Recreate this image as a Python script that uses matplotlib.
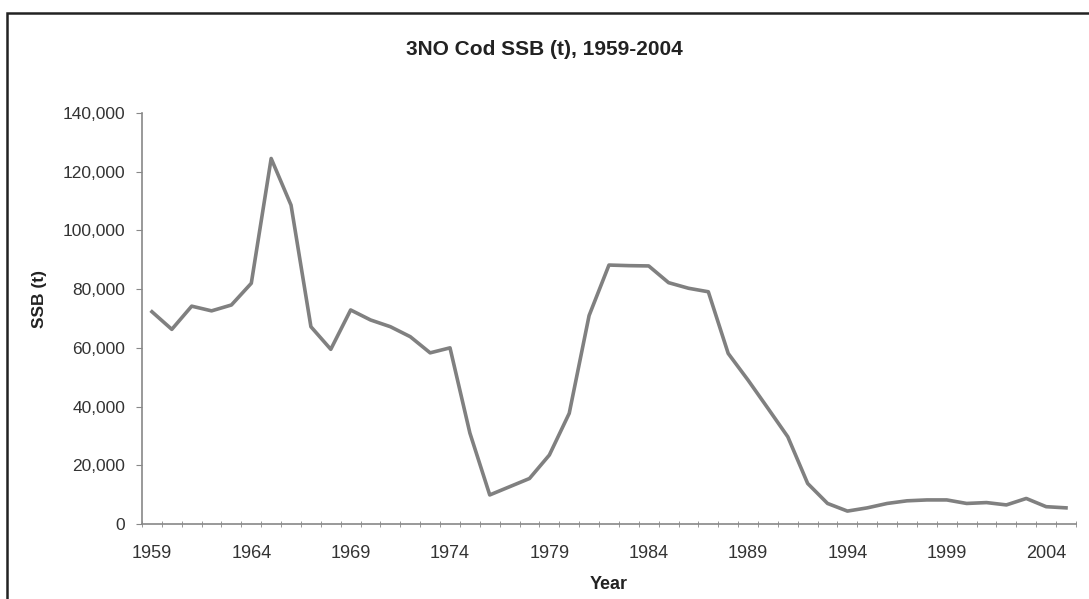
import matplotlib
matplotlib.use("Agg")
import matplotlib.pyplot as plt
from matplotlib.patches import Rectangle
from matplotlib.ticker import FuncFormatter

years = list(range(1959, 2006))
ssb = [72300, 66300, 74200, 72600, 74600, 82000, 124500, 108600, 67200, 59500,
       72900, 69500, 67200, 63800, 58300, 60000, 31000, 9900, 12700, 15500,
       23500, 37700, 71000, 88200, 88000, 87900, 82200, 80300, 79100, 58100,
       49000, 39400, 29700, 13800, 7000, 4400, 5500, 7000, 7900, 8200,
       8200, 7000, 7300, 6500, 8700, 5900, 5500]

label_years = [1959, 1964, 1969, 1974, 1979, 1984, 1989, 1994, 1999, 2004]
y_ticks = [0, 20000, 40000, 60000, 80000, 100000, 120000, 140000]

plt.rcParams['font.family'] = ['Liberation Sans', 'DejaVu Sans']

fig = plt.figure(figsize=(10.89, 5.99), dpi=100)
ax = fig.add_axes([0.1304, 0.1252, 0.8576, 0.6862])

ax.plot(years, ssb, color='#808080', linewidth=2.6, solid_joinstyle='round')

ax.set_xlim(1958.5, 2005.5)
ax.set_ylim(0, 140000)
ax.set_yticks(y_ticks)
ax.yaxis.set_major_formatter(FuncFormatter(lambda v, p: f"{int(v):,}"))
ax.set_xticks(label_years)
ax.set_xticks([y - 0.5 for y in years] + [2005.5], minor=True)
ax.tick_params(axis='x', which='major', length=0, pad=15, labelsize=13, labelcolor='#333333')
ax.tick_params(axis='x', which='minor', length=4, color='#888888', direction='inout')
ax.tick_params(axis='y', length=4, color='#888888', labelsize=12.5, labelcolor='#333333', pad=8)

for s in ['top', 'right']:
    ax.spines[s].set_visible(False)
for s in ['left', 'bottom']:
    ax.spines[s].set_color('#888888')
    ax.spines[s].set_linewidth(1.2)

fig.text(0.500, 0.918, '3NO Cod SSB (t), 1959-2004', ha='center', va='center',
         fontsize=15, fontweight='bold', color='#222222')
fig.text(0.036, 0.5, 'SSB (t)', rotation=90, ha='center', va='center',
         fontsize=12.5, fontweight='bold', color='#222222')
fig.text(0.559, 0.025, 'Year', ha='center', va='center',
         fontsize=13, fontweight='bold', color='#222222')

fig.patches.append(Rectangle((7 / 1089, -0.1), 2.0, 1 - 13 / 599 + 0.1, fill=False,
                             edgecolor='#222222', linewidth=1.8,
                             transform=fig.transFigure, figure=fig))

fig.savefig('out.png', dpi=100)
